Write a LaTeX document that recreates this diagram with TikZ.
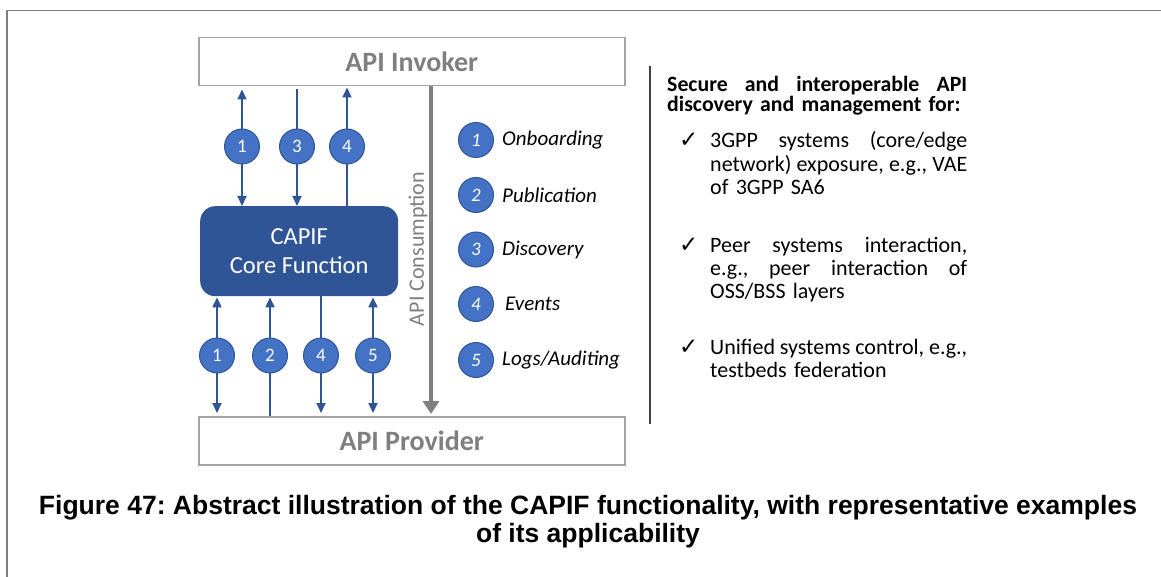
\documentclass[tikz,border=0pt]{standalone}
\usepackage{fontspec}
\setmainfont{Carlito}
\newfontfamily\capfont{Liberation Sans}
\newfontfamily\symfont{DejaVu Sans}
\usetikzlibrary{arrows.meta}
\definecolor{dblue}{HTML}{2F5597}
\definecolor{mblue}{HTML}{4472C4}
\definecolor{bgray}{HTML}{A6A6A6}
\definecolor{tgray}{HTML}{7F7F7F}
\definecolor{agray}{HTML}{808080}
\definecolor{lgray}{HTML}{404040}
\newcommand\jline[2]{\leavevmode\hbox to #1{#2}}
\frenchspacing
\begin{document}
\begin{tikzpicture}[x=1pt,y=-1pt,
  gbox/.style={draw=bgray, line width=1.5pt, fill=white, minimum width=426pt, minimum height=48pt, anchor=north west, inner sep=0pt,
    text=tgray, font=\bfseries\fontsize{28}{32}\selectfont},
  capbox/.style={draw=none, fill=dblue, rounded corners=15pt, minimum width=198pt, minimum height=90pt, anchor=north west,
    text=white, align=center, font=\fontsize{24.5}{29}\selectfont},
  num/.style={circle, draw=dblue, line width=1pt, fill=mblue, minimum size=35pt, inner sep=0pt, text=white, font=\fontsize{19}{20}\selectfont},
  lnum/.style={num, font=\itshape\fontsize{19}{20}\selectfont},
  ltext/.style={anchor=west, inner sep=0pt, font=\itshape\fontsize{21}{24}\selectfont},
  arr/.style={draw=dblue, line width=2pt, arrows={-Triangle[length=10pt,width=9pt]}},
  darr/.style={draw=dblue, line width=2pt, arrows={Triangle[length=10pt,width=9pt]-Triangle[length=10pt,width=9pt]}},
  garr/.style={draw=agray, line width=4.5pt, arrows={-Triangle[length=13pt,width=16pt]}},
  frame/.style={draw=tgray, line width=1.5pt},
  chk/.style={anchor=base west, inner sep=0pt, font=\symfont\fontsize{23}{23}\selectfont},
  btext/.style={anchor=base west, inner sep=0pt, align=left, text width=258pt, font=\fontsize{22}{23.5}\selectfont}
]
\useasboundingbox (0,0) rectangle (1161,577);
\draw[frame] (7,577) -- (7,10.5) -- (1161,10.5);

% boxes
\node[gbox] (inv) at (198,37) {API Invoker};
\node[gbox] (prov) at (198,416) {API Provider};
\node[capbox] (capif) at (200,206) {CAPIF\\Core Function};

% gray consumption arrow
\coordinate (gx) at (431,0);
\draw[garr, shorten >=2pt] (gx |- inv.south) -- (gx |- prov.north);
\node[rotate=90, text=tgray, font=\fontsize{22}{24}\selectfont] (cons) at (418,249) {API Consumption};

% circle positions
\coordinate (t1) at (242,146.5);
\coordinate (t3) at (297,146.5);
\coordinate (t4) at (347,146.5);
\coordinate (b1) at (217,355.5);
\coordinate (b2) at (270,355.5);
\coordinate (b4) at (321,355.5);
\coordinate (b5) at (373,355.5);

% top arrows
\draw[darr, shorten <=3pt] (t1 |- inv.south) -- (t1 |- capif.north);
\draw[arr, shorten <=3pt] (t3 |- inv.south) -- (t3 |- capif.north);
\draw[arr, shorten >=1pt] (t4 |- capif.north) -- (t4 |- inv.south);
% bottom arrows
\draw[darr, shorten <=1pt, shorten >=3pt] (b1 |- capif.south) -- (b1 |- prov.north);
\draw[arr, shorten >=1pt] (b2 |- prov.north) -- (b2 |- capif.south);
\draw[arr, shorten >=3pt] (b4 |- capif.south) -- (b4 |- prov.north);
\draw[darr, shorten <=1pt, shorten >=3pt] (b5 |- capif.south) -- (b5 |- prov.north);
% circles on top
\node[num] (n1t) at (t1) {1};
\node[num] (n3t) at (t3) {3};
\node[num] (n4t) at (t4) {4};
\node[num] (n1b) at (b1) {1};
\node[num] (n2b) at (b2) {2};
\node[num] (n4b) at (b4) {4};
\node[num] (n5b) at (b5) {5};

% legend
\node[lnum] (l1) at (476,140) {1};
\node[lnum] (l2) at (476,195) {2};
\node[lnum] (l3) at (476,249.5) {3};
\node[lnum] (l4) at (476,304) {4};
\node[lnum] (l5) at (476,360) {5};
\node[ltext] (lt1) at (502,140) {Onboarding};
\node[ltext] (lt2) at (502,195) {Publication};
\node[ltext] (lt3) at (502,249.5) {Discovery};
\node[ltext] (lt4) at (505,304) {Events};
\node[ltext] (lt5) at (502,360) {Logs/Auditing};

% separator
\coordinate (sepT) at (650,66);
\coordinate (sepB) at (650,424);
\draw[draw=lgray, line width=1.2pt] (sepT) -- (sepB);

% right text
\node[anchor=base west, inner sep=0pt, align=left, text width=300pt, font=\bfseries\fontsize{21.8}{18.5}\selectfont] (head) at (667,91.5)
  {\jline{300pt}{Secure\hfill and\hfill interoperable\hfill API}\\\mbox{discovery and management for:}};
\node[chk] (k1) at (679,148) {✓};
\node[btext] (bt1) at (710,148) {\jline{257pt}{3GPP\hfill systems\hfill (core/edge}\\\jline{257pt}{network)\hfill exposure,\hfill e.g.,\hfill VAE}\\of 3GPP SA6};
\node[chk] (k2) at (679,252) {✓};
\node[btext] (bt2) at (710,252) {\jline{257pt}{Peer\hfill systems\hfill interaction,}\\\jline{257pt}{e.g.,\hfill peer\hfill interaction\hfill of}\\OSS/BSS layers};
\node[chk] (k3) at (679,354) {✓};
\node[btext] (bt3) at (710,354) {\jline{257pt}{Unified\hfill systems\hfill control,\hfill e.g.,}\\testbeds federation};

% caption
\node[align=center, font=\capfont\bfseries\fontsize{26.5}{28}\selectfont] (cap) at (588,522)
  {Figure 47: Abstract illustration of the CAPIF functionality, with representative examples\\of its applicability};
\end{tikzpicture}
\end{document}
